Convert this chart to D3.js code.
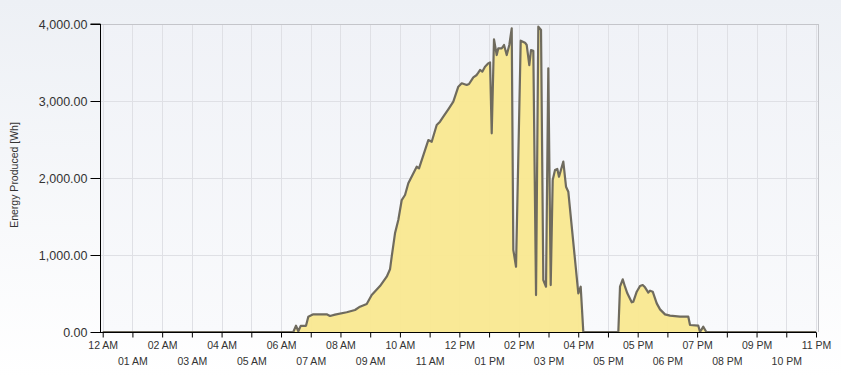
<!DOCTYPE html>
<html>
<head>
<meta charset="utf-8">
<script src="https://cdn.jsdelivr.net/npm/d3@7"></script>
<style>
html,body{margin:0;padding:0;}
body{width:841px;height:377px;overflow:hidden;}
svg{display:block;}
</style>
</head>
<body>
<svg id="chart" width="841" height="377"></svg>
<script>
// Hours since midnight (x) and energy produced in Wh (y)
const hours = [0, 6.413, 6.504, 6.582, 6.662, 6.840, 6.918, 7.086, 7.537, 7.648, 7.816, 8.210, 8.489, 8.657, 8.883, 9.051, 9.330, 9.556, 9.667, 9.724, 9.835, 9.946, 10.061, 10.172, 10.283, 10.565, 10.643, 10.956, 11.070, 11.238, 11.349, 11.460, 11.628, 11.797, 11.965, 12.080, 12.248, 12.325, 12.470, 12.584, 12.638, 12.695, 12.772, 12.863, 12.974, 13.032, 13.089, 13.166, 13.257, 13.311, 13.425, 13.503, 13.594, 13.681, 13.762, 13.816, 13.907, 14.065, 14.209, 14.267, 14.354, 14.411, 14.489, 14.580, 14.657, 14.748, 14.825, 14.916, 14.993, 15.074, 15.141, 15.219, 15.296, 15.353, 15.498, 15.589, 15.666, 16.003, 16.083, 16.171, 17.349, 17.406, 17.497, 17.574, 17.652, 17.800, 17.854, 17.968, 18.079, 18.170, 18.247, 18.358, 18.416, 18.506, 18.641, 18.752, 18.920, 19.088, 19.425, 19.704, 19.761, 20.040, 20.097, 20.208, 20.310, 24];
const energy = [0, 0, 82, 10, 80, 80, 199, 230, 230, 208, 225, 256, 286, 329, 364, 480, 597, 718, 814, 978, 1282, 1455, 1714, 1779, 1931, 2147, 2126, 2493, 2471, 2688, 2731, 2796, 2892, 2991, 3186, 3230, 3208, 3221, 3308, 3338, 3368, 3403, 3381, 3446, 3489, 3502, 2580, 3801, 3597, 3684, 3684, 3727, 3597, 3727, 3944, 1065, 848, 3783, 3757, 3727, 3467, 3662, 3653, 480, 3965, 3922, 675, 588, 3425, 610, 1974, 2104, 2117, 2017, 2212, 1887, 1822, 502, 588, 0, 0, 588, 684, 588, 502, 385, 394, 523, 597, 610, 580, 511, 537, 523, 372, 294, 229, 212, 199, 199, 91, 82, 0, 69, 0, 0];
const tickLabels = ["12 AM","01 AM","02 AM","03 AM","04 AM","05 AM","06 AM","07 AM","08 AM","09 AM","10 AM","11 AM","12 PM","01 PM","02 PM","03 PM","04 PM","05 PM","05 PM","06 PM","07 PM","08 PM","09 PM","10 PM","11 PM"];
const yTicks = [0, 1000, 2000, 3000, 4000];
const yTitle = "Energy Produced [Wh]";

const data = hours.map((h, i) => ({h: h, v: energy[i]}));

const svg = d3.select("#chart");
const W = 841, H = 377;
const plot = {left: 100, right: 818, top: 24, bottom: 332};

const defs = svg.append("defs");
const bgGrad = defs.append("linearGradient").attr("id", "bgGrad").attr("x1", 0).attr("y1", 0).attr("x2", 0).attr("y2", 1);
bgGrad.append("stop").attr("offset", "0%").attr("stop-color", "#edf0f5");
bgGrad.append("stop").attr("offset", "100%").attr("stop-color", "#ffffff");
const plotGrad = defs.append("linearGradient").attr("id", "plotGrad").attr("x1", 0).attr("y1", 0).attr("x2", 0).attr("y2", 1);
plotGrad.append("stop").attr("offset", "0%").attr("stop-color", "#f0f2f7");
plotGrad.append("stop").attr("offset", "100%").attr("stop-color", "#f9fafc");

svg.append("rect").attr("width", W).attr("height", H).attr("fill", "url(#bgGrad)");
svg.append("rect").attr("x", plot.left).attr("y", plot.top)
  .attr("width", plot.right - plot.left).attr("height", plot.bottom - plot.top)
  .attr("fill", "url(#plotGrad)");

const x = d3.scaleLinear().domain([0, 24]).range([102.7, 816]);
const y = d3.scaleLinear().domain([0, 4000]).range([plot.bottom, plot.top]);
const tickVals = d3.range(0, 25);

// grid
svg.append("g").selectAll("line.vg").data(tickVals).join("line")
  .attr("x1", d => Math.round(x(d)) + 0.5).attr("x2", d => Math.round(x(d)) + 0.5)
  .attr("y1", plot.top).attr("y2", plot.bottom)
  .attr("stroke", "#dfe0e5").attr("stroke-width", 1);
svg.append("g").selectAll("line.hg").data(yTicks.slice(1)).join("line")
  .attr("x1", plot.left).attr("x2", plot.right)
  .attr("y1", d => Math.round(y(d)) + 0.5).attr("y2", d => Math.round(y(d)) + 0.5)
  .attr("stroke", "#dfe0e5").attr("stroke-width", 1);

// frame top/right
svg.append("line").attr("x1", plot.left).attr("x2", plot.right + 0.5).attr("y1", plot.top + 0.5).attr("y2", plot.top + 0.5).attr("stroke", "#c4c5ca");
svg.append("line").attr("x1", plot.right + 0.5).attr("x2", plot.right + 0.5).attr("y1", plot.top).attr("y2", plot.bottom).attr("stroke", "#c4c5ca");

// area + line
const area = d3.area().x(d => x(d.h)).y0(y(0)).y1(d => y(d.v));
const line = d3.line().x(d => x(d.h)).y(d => y(d.v));
svg.append("path").datum(data).attr("d", area).attr("fill", "#f9e890").attr("fill-opacity", 0.95);
svg.append("path").datum(data).attr("d", line).attr("fill", "none")
  .attr("stroke", "#6f6b5e").attr("stroke-width", 2.2).attr("stroke-linejoin", "round");

// y axis
const yAxis = d3.axisLeft(y).tickValues(yTicks).tickSize(10).tickPadding(3)
  .tickFormat(d3.format(",.2f"));
const gy = svg.append("g").attr("transform", `translate(${plot.left + 0.5},0)`).call(yAxis);
gy.select(".domain").attr("stroke", "#000").attr("d", `M-10,${plot.top}H0V${plot.bottom + 0.5}`);
gy.selectAll(".tick line").attr("stroke", "#000");
gy.selectAll(".tick text").attr("fill", "#333").style("font-family", "'Liberation Sans', Arial, sans-serif").style("font-size", "12.5px");

// x axis
const xAxis = d3.axisBottom(x).tickValues(tickVals).tickSize(5).tickFormat(d => tickLabels[d]);
const gx = svg.append("g").attr("transform", `translate(0,${plot.bottom + 0.5})`).call(xAxis);
gx.select(".domain").attr("stroke", "#000").attr("d", `M${plot.left},0H${x(24) + 0.5}`);
gx.selectAll(".tick line").attr("stroke", "#000");
gx.selectAll(".tick text").attr("fill", "#333")
  .style("font-family", "'Liberation Sans', Arial, sans-serif").style("font-size", "10.5px")
  .attr("y", (d, i) => i % 2 === 0 ? 9 : 25);

// y title
svg.append("text").attr("transform", `translate(18,${(plot.top + plot.bottom) / 2 - 3}) rotate(-90)`)
  .attr("text-anchor", "middle").attr("fill", "#333")
  .style("font-family", "'Liberation Sans', Arial, sans-serif").style("font-size", "10.5px")
  .text(yTitle);
</script>
</body>
</html>
